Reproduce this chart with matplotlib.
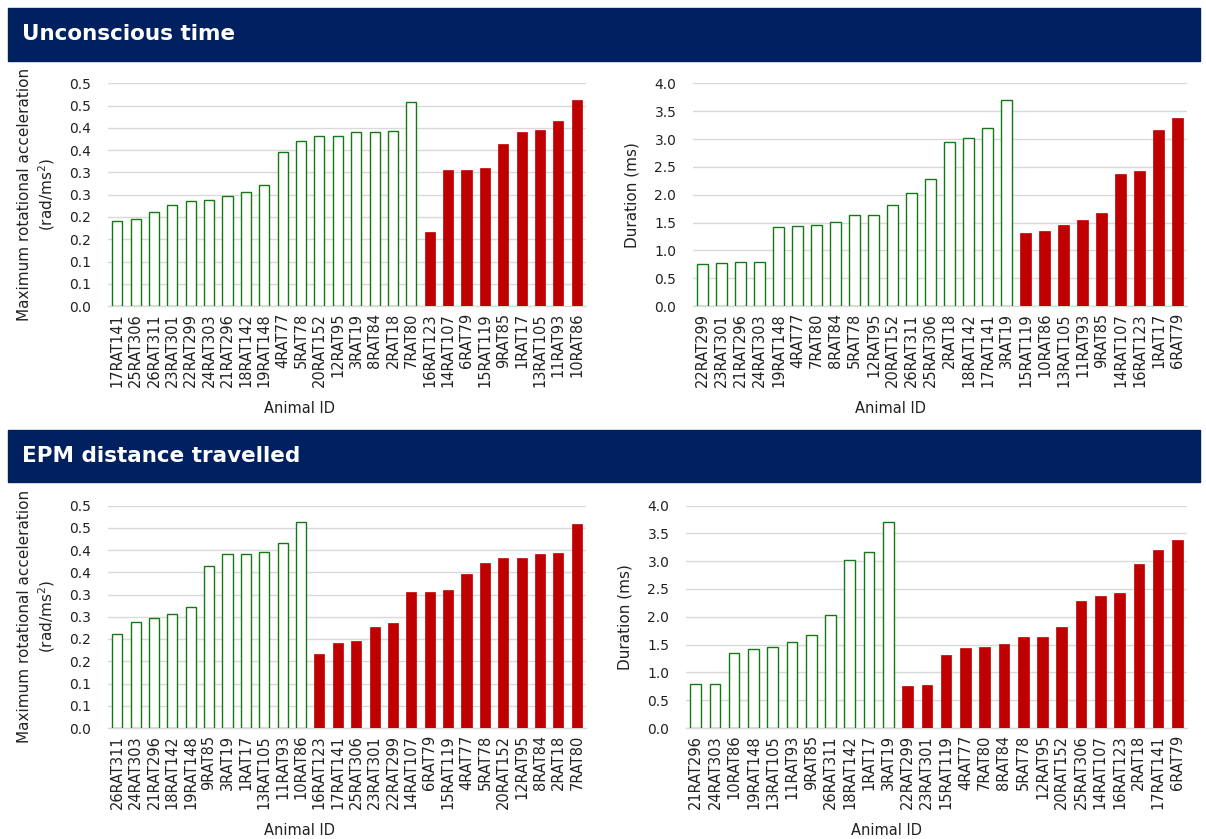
import matplotlib
matplotlib.use("Agg")
import matplotlib.pyplot as plt
from matplotlib.patches import Rectangle

# Unconscious time - max rotational acceleration
uc_acc_green_ids = ["17RAT141", "25RAT306", "26RAT311", "23RAT301", "22RAT299", "24RAT303",
                    "21RAT296", "18RAT142", "19RAT148", "4RAT77", "5RAT78", "20RAT152",
                    "12RAT95", "3RAT19", "8RAT84", "2RAT18", "7RAT80"]
uc_acc_green_vals = [0.192, 0.195, 0.211, 0.227, 0.235, 0.239, 0.247, 0.257, 0.272, 0.346,
                     0.370, 0.382, 0.383, 0.390, 0.392, 0.394, 0.459]
uc_acc_red_ids = ["16RAT123", "14RAT107", "6RAT79", "15RAT119", "9RAT85", "1RAT17",
                  "13RAT105", "11RAT93", "10RAT86"]
uc_acc_red_vals = [0.166, 0.305, 0.306, 0.311, 0.364, 0.391, 0.395, 0.415, 0.463]

# Unconscious time - duration
uc_dur_green_ids = ["22RAT299", "23RAT301", "21RAT296", "24RAT303", "19RAT148", "4RAT77",
                    "7RAT80", "8RAT84", "5RAT78", "12RAT95", "20RAT152", "26RAT311",
                    "25RAT306", "2RAT18", "18RAT142", "17RAT141", "3RAT19"]
uc_dur_green_vals = [0.754, 0.772, 0.784, 0.787, 1.417, 1.432, 1.465, 1.514, 1.637, 1.637,
                     1.817, 2.030, 2.285, 2.952, 3.018, 3.198, 3.700]
uc_dur_red_ids = ["15RAT119", "10RAT86", "13RAT105", "11RAT93", "9RAT85", "14RAT107",
                  "16RAT123", "1RAT17", "6RAT79"]
uc_dur_red_vals = [1.315, 1.348, 1.465, 1.550, 1.667, 2.381, 2.432, 3.159, 3.387]

# EPM distance travelled - max rotational acceleration
epm_acc_green_ids = ["26RAT311", "24RAT303", "21RAT296", "18RAT142", "19RAT148", "9RAT85",
                     "3RAT19", "1RAT17", "13RAT105", "11RAT93", "10RAT86"]
epm_acc_green_vals = [0.211, 0.239, 0.247, 0.257, 0.272, 0.364, 0.390, 0.391, 0.395, 0.415, 0.463]
epm_acc_red_ids = ["16RAT123", "17RAT141", "25RAT306", "23RAT301", "22RAT299", "14RAT107",
                   "6RAT79", "15RAT119", "4RAT77", "5RAT78", "20RAT152", "12RAT95",
                   "8RAT84", "2RAT18", "7RAT80"]
epm_acc_red_vals = [0.166, 0.192, 0.195, 0.227, 0.235, 0.305, 0.306, 0.311, 0.346, 0.370,
                    0.382, 0.383, 0.392, 0.394, 0.459]

# EPM distance travelled - duration
epm_dur_green_ids = ["21RAT296", "24RAT303", "10RAT86", "19RAT148", "13RAT105", "11RAT93",
                     "9RAT85", "26RAT311", "18RAT142", "1RAT17", "3RAT19"]
epm_dur_green_vals = [0.784, 0.787, 1.348, 1.417, 1.465, 1.550, 1.667, 2.030, 3.018, 3.159, 3.700]
epm_dur_red_ids = ["22RAT299", "23RAT301", "15RAT119", "4RAT77", "7RAT80", "8RAT84",
                   "5RAT78", "12RAT95", "20RAT152", "25RAT306", "14RAT107", "16RAT123",
                   "2RAT18", "17RAT141", "6RAT79"]
epm_dur_red_vals = [0.754, 0.772, 1.315, 1.432, 1.465, 1.514, 1.637, 1.637, 1.817, 2.285,
                    2.381, 2.432, 2.952, 3.198, 3.387]

acc_ticks = [0.0, 0.05, 0.1, 0.15, 0.2, 0.25, 0.3, 0.35, 0.4, 0.45, 0.5]
acc_tick_labels = ["0.0", "0.1", "0.1", "0.2", "0.2", "0.3", "0.3", "0.4", "0.4", "0.5", "0.5"]
dur_ticks = [0.0, 0.5, 1.0, 1.5, 2.0, 2.5, 3.0, 3.5, 4.0]
dur_tick_labels = ["0.0", "0.5", "1.0", "1.5", "2.0", "2.5", "3.0", "3.5", "4.0"]

headers = ["Unconscious time", "EPM distance travelled"]

NAVY = "#002060"
GREEN = "#137A13"
RED = "#C00000"
GRID = "#D9D9D9"
TEXT = "#222222"

W, H = 1206, 839
fig = plt.figure(figsize=(W / 100, H / 100), dpi=100)


def px_axes(x0, x1, ytop, ybot):
    return fig.add_axes([x0 / W, 1 - ybot / H, (x1 - x0) / W, (ybot - ytop) / H])


def draw_panel(ax, g_ids, g_vals, r_ids, r_vals, ticks, tick_labels, ylabel, ylab_x):
    ids = g_ids + r_ids
    xg = list(range(len(g_ids)))
    xr = list(range(len(g_ids), len(ids)))
    ax.bar(xg, g_vals, width=0.55, color="white", edgecolor=GREEN, linewidth=1.0, zorder=3)
    ax.bar(xr, r_vals, width=0.55, color=RED, edgecolor=RED, linewidth=0.5, zorder=3)
    ax.set_xlim(-0.5, len(ids) - 0.5)
    ax.set_ylim(ticks[0], ticks[-1])
    ax.set_yticks(ticks)
    ax.set_yticklabels(tick_labels, fontsize=10, color=TEXT)
    ax.set_xticks(range(len(ids)))
    ax.set_xticklabels(ids, rotation=90, fontsize=10.5, color=TEXT)
    ax.tick_params(axis="both", length=0)
    ax.tick_params(axis="x", pad=5)
    ax.tick_params(axis="y", pad=12)
    ax.grid(axis="y", color=GRID, linewidth=1.0, zorder=0)
    for side in ["top", "right", "left"]:
        ax.spines[side].set_visible(False)
    ax.spines["bottom"].set_color(GRID)
    ax.spines["bottom"].set_linewidth(1.0)
    ax.set_ylabel(ylabel, fontsize=11, color=TEXT, linespacing=1.25)
    ax.yaxis.set_label_coords(ylab_x, 0.5)
    ax.set_xlabel("Animal ID", fontsize=10.5, color=TEXT)
    ax.xaxis.set_label_coords(0.40, -0.425)


acc_label = "Maximum rotational acceleration\n(rad/ms$^2$)"
dur_label = "Duration (ms)"

ax1 = px_axes(108, 586, 83.5, 306)
draw_panel(ax1, uc_acc_green_ids, uc_acc_green_vals, uc_acc_red_ids, uc_acc_red_vals,
           acc_ticks, acc_tick_labels, acc_label, -0.107)
ax2 = px_axes(693, 1187, 83.5, 306)
draw_panel(ax2, uc_dur_green_ids, uc_dur_green_vals, uc_dur_red_ids, uc_dur_red_vals,
           dur_ticks, dur_tick_labels, dur_label, -0.109)
ax3 = px_axes(108, 586, 505.5, 728)
draw_panel(ax3, epm_acc_green_ids, epm_acc_green_vals, epm_acc_red_ids, epm_acc_red_vals,
           acc_ticks, acc_tick_labels, acc_label, -0.107)
ax4 = px_axes(686, 1187, 505.5, 728)
draw_panel(ax4, epm_dur_green_ids, epm_dur_green_vals, epm_dur_red_ids, epm_dur_red_vals,
           dur_ticks, dur_tick_labels, dur_label, -0.106)

# header bands
for title, (ytop, ybot) in zip(headers, [(8, 61), (430, 482)]):
    fig.patches.append(Rectangle((8 / W, 1 - ybot / H), (1200 - 8) / W, (ybot - ytop) / H,
                                 transform=fig.transFigure, color=NAVY, zorder=0))
    fig.text(22 / W, 1 - (ytop + ybot) / 2 / H, title, color="white", fontsize=15.5,
             fontweight="bold", va="center", ha="left")

fig.savefig("out.png", dpi=100)
